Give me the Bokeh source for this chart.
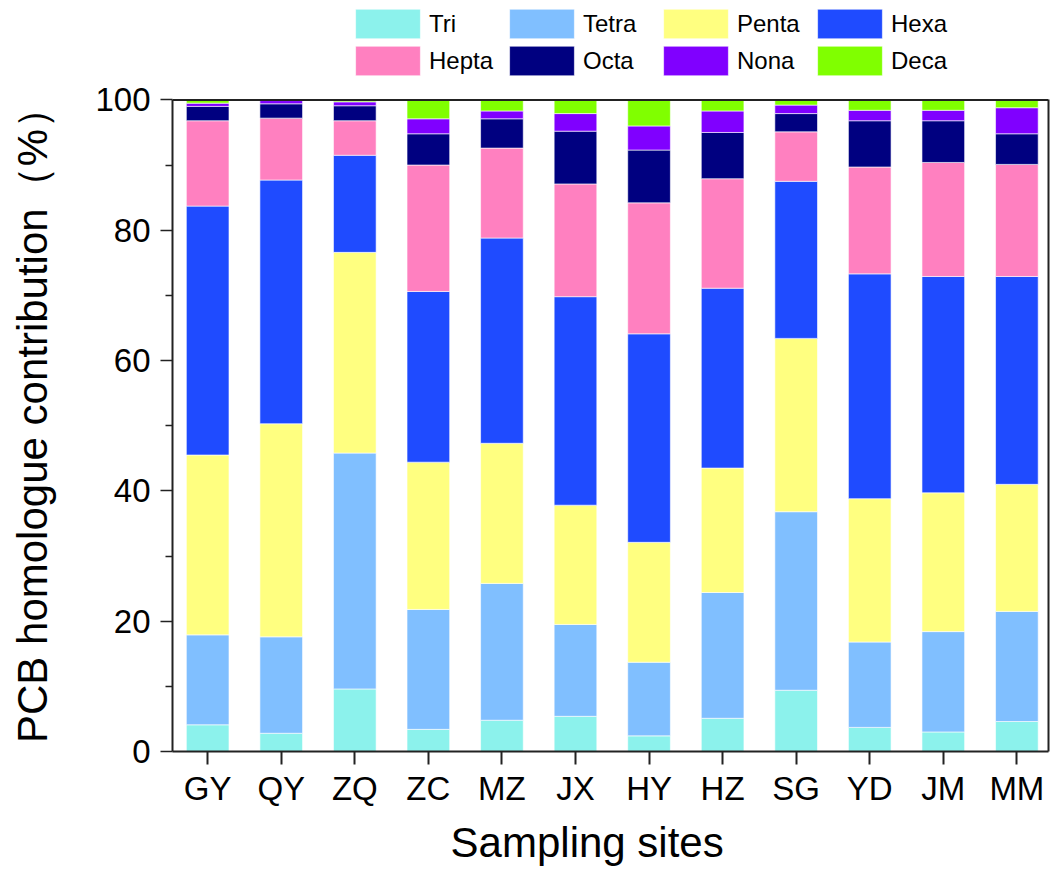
import numpy as np
from bokeh.plotting import figure
from bokeh.models import (ColumnDataSource, Range1d, FixedTicker, Legend, LegendItem,
                          LinearAxis, Span)
from bokeh.embed import file_html
from bokeh.resources import INLINE

sites = ["GY", "QY", "ZQ", "ZC", "MZ", "JX", "HY", "HZ", "SG", "YD", "JM", "MM"]
homologues = ["Tri", "Tetra", "Penta", "Hexa", "Hepta", "Octa", "Nona", "Deca"]
colors = ["#8CF2EC", "#80BFFF", "#FFFF80", "#1F4BFF", "#FF80C0", "#000080", "#8000FF", "#80FF00"]

tri   = [4.1, 2.8, 9.6, 3.4, 4.8, 5.4, 2.4, 5.1, 9.4, 3.7, 3.0, 4.6]
tetra = [13.8, 14.8, 36.2, 18.4, 21.0, 14.1, 11.3, 19.3, 27.4, 13.1, 15.4, 16.9]
penta = [27.6, 32.7, 30.8, 22.6, 21.5, 18.3, 18.4, 19.1, 26.6, 22.0, 21.3, 19.5]
hexa  = [38.2, 37.4, 14.9, 26.2, 31.5, 32.0, 32.0, 27.6, 24.1, 34.5, 33.2, 31.9]
hepta = [13.1, 9.5, 5.3, 19.4, 13.8, 17.3, 20.1, 16.8, 7.6, 16.4, 17.5, 17.2]
octa  = [2.2, 2.2, 2.3, 4.8, 4.5, 8.1, 8.1, 7.1, 2.8, 7.1, 6.4, 4.7]
nona  = [0.5, 0.5, 0.6, 2.3, 1.2, 2.7, 3.7, 3.3, 1.3, 1.6, 1.6, 4.0]
deca  = [0.4, 0.1, 0.2, 2.9, 1.7, 2.1, 4.0, 1.7, 0.8, 1.6, 1.6, 1.1]

y_ticks = [0, 20, 40, 60, 80, 100]
y_minor = [10, 30, 50, 70, 90]
Y_TOP = 100

x = list(range(len(sites)))
source = ColumnDataSource(dict(x=x, Tri=tri, Tetra=tetra, Penta=penta, Hexa=hexa,
                               Hepta=hepta, Octa=octa, Nona=nona, Deca=deca))

FONT = "Liberation Sans"
AX = "#222222"
NB = "\u00a0"

# frame spans canvas y 8..756; data 0..100 occupies 100..756 (legend sits above 100)
FRAME_TOP, FRAME_BOTTOM, PLOT_TOP = 8, 756, 100
y_max = Y_TOP * (FRAME_BOTTOM - FRAME_TOP) / (FRAME_BOTTOM - PLOT_TOP)

p = figure(width=1055, height=868, output_backend="svg", toolbar_location=None,
           x_range=Range1d(-0.478, 11.43), y_range=Range1d(0, y_max),
           min_border_left=172, min_border_right=7, min_border_top=FRAME_TOP,
           min_border_bottom=112)

renderers = p.vbar_stack(homologues, x="x", width=0.58, source=source, color=colors,
                         line_color="white", line_width=1, line_alpha=0.6)

p.xgrid.visible = False
p.ygrid.visible = False
p.outline_line_color = None
p.background_fill_color = "white"
p.border_fill_color = "white"

# x axis
p.xaxis.ticker = FixedTicker(ticks=x)
p.xaxis.major_label_overrides = {i: s for i, s in enumerate(sites)}
p.xaxis.minor_tick_line_color = None
p.xaxis.major_tick_out = 13
p.xaxis.major_tick_in = 0
p.xaxis.axis_line_width = 2
p.xaxis.axis_line_color = AX
p.xaxis.major_tick_line_width = 2
p.xaxis.major_tick_line_color = AX
p.xaxis.major_label_text_font = FONT
p.xaxis.major_label_text_font_size = "33px"
p.xaxis.major_label_text_color = "black"
p.xaxis.major_label_standoff = 5
p.xaxis.axis_label = "Sampling sites" + NB * 4
p.xaxis.axis_label_text_font = FONT
p.xaxis.axis_label_text_font_size = "42px"
p.xaxis.axis_label_text_font_style = "normal"
p.xaxis.axis_label_text_color = "black"
p.xaxis.axis_label_standoff = 9

# y axis
p.yaxis.bounds = (0, Y_TOP)
p.yaxis.ticker = FixedTicker(ticks=y_ticks, minor_ticks=y_minor)
p.yaxis.major_tick_out = 12
p.yaxis.major_tick_in = 0
p.yaxis.minor_tick_out = 7
p.yaxis.minor_tick_in = 0
p.yaxis.axis_line_width = 2
p.yaxis.axis_line_color = AX
p.yaxis.major_tick_line_width = 1.5
p.yaxis.minor_tick_line_width = 1.5
p.yaxis.major_tick_line_color = AX
p.yaxis.minor_tick_line_color = AX
p.yaxis.major_label_text_font = FONT
p.yaxis.major_label_text_font_size = "33px"
p.yaxis.major_label_text_color = "black"
p.yaxis.major_label_standoff = 10
p.yaxis.axis_label = "PCB homologue contribution（%）" + NB * 6
p.yaxis.axis_label_text_font = FONT
p.yaxis.axis_label_text_font_size = "42px"
p.yaxis.axis_label_text_font_style = "normal"
p.yaxis.axis_label_text_color = "black"
p.yaxis.axis_label_standoff = 36

# right frame edge and top frame edge at 100
right_axis = LinearAxis(bounds=(0, Y_TOP), ticker=FixedTicker(ticks=[]),
                        axis_line_width=2, axis_line_color=AX,
                        major_tick_line_color=None, minor_tick_line_color=None,
                        major_label_text_font_size="0px")
p.add_layout(right_axis, "right")
p.add_layout(Span(location=Y_TOP, dimension="width", line_color=AX, line_width=2))

legend = Legend(items=[LegendItem(label=h, renderers=[r]) for h, r in zip(homologues, renderers)],
                location=(175, FRAME_BOTTOM - 84), orientation="horizontal", ncols=4,
                glyph_width=81, glyph_height=37, label_height=37, label_width=72,
                label_standoff=1, spacing=0, padding=0, margin=0,
                label_text_font=FONT, label_text_font_size="24px",
                label_text_color="black",
                border_line_color=None, background_fill_alpha=0)
p.add_layout(legend)

open("out.html", "w").write(file_html(p, INLINE))
